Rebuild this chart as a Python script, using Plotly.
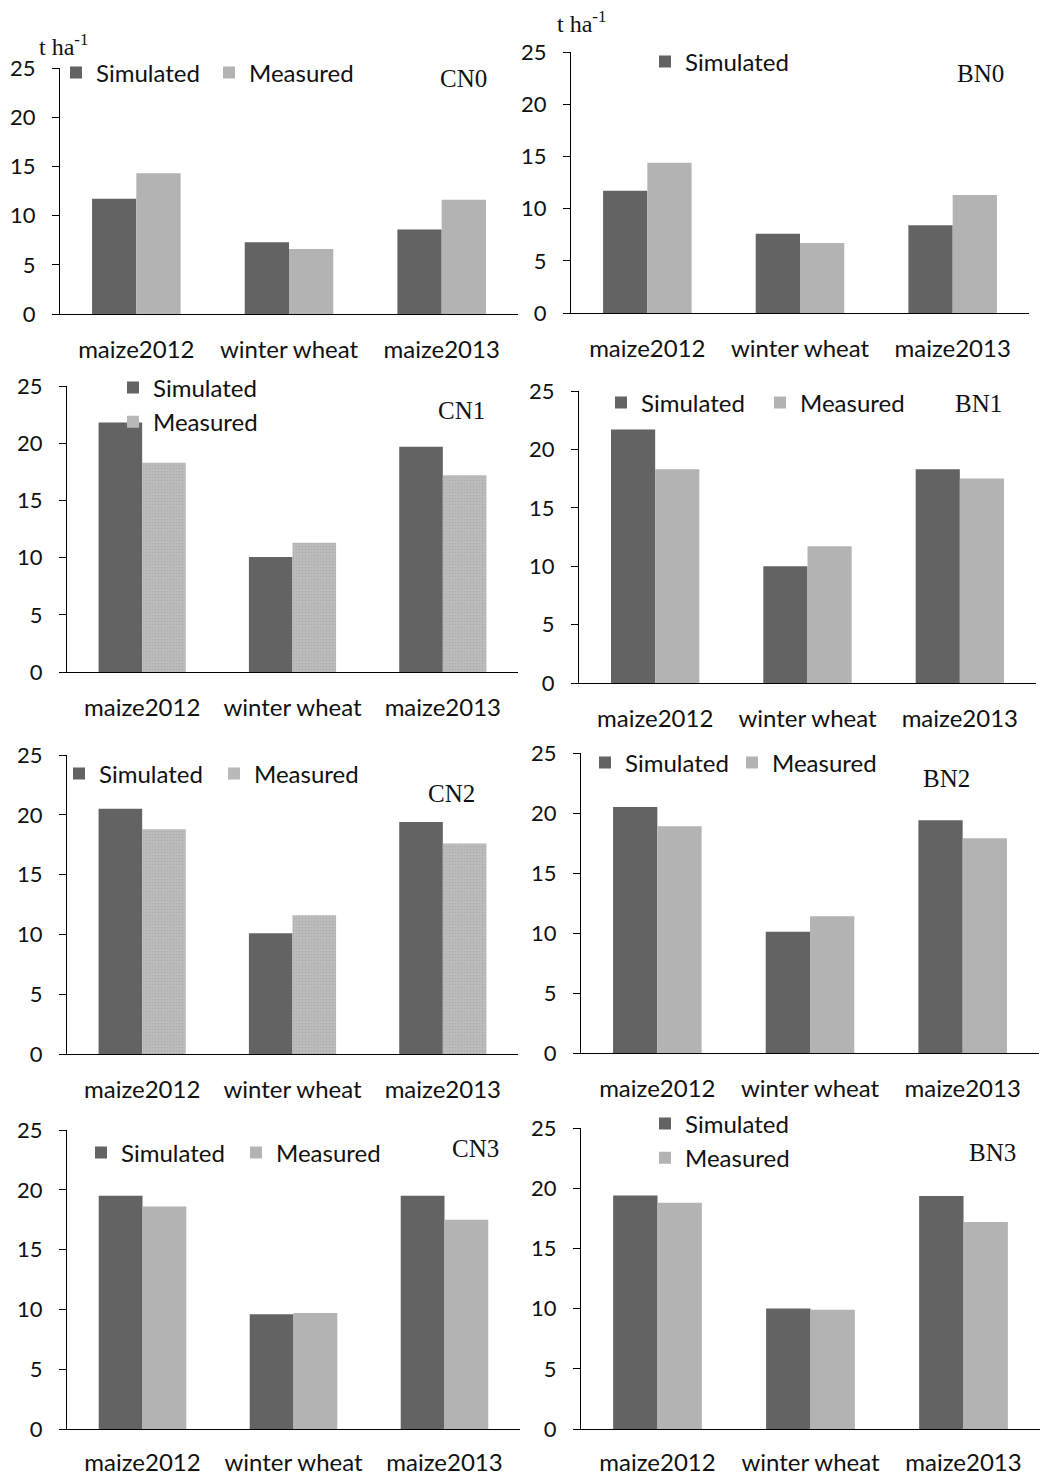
import plotly.graph_objects as go

# ---------------- data ----------------
categories = ["maize2012", "winter wheat", "maize2013"]
panels = ["CN0", "BN0", "CN1", "BN1", "CN2", "BN2", "CN3", "BN3"]

sim_CN0 = [11.7, 7.3, 8.6]
meas_CN0 = [14.3, 6.6, 11.6]
sim_BN0 = [11.7, 7.6, 8.4]
meas_BN0 = [14.4, 6.7, 11.3]
sim_CN1 = [21.8, 10.05, 19.7]
meas_CN1 = [18.3, 11.3, 17.2]
sim_BN1 = [21.7, 10.0, 18.3]
meas_BN1 = [18.3, 11.7, 17.5]
sim_CN2 = [20.5, 10.1, 19.4]
meas_CN2 = [18.8, 11.6, 17.6]
sim_BN2 = [20.5, 10.1, 19.4]
meas_BN2 = [18.9, 11.4, 17.9]
sim_CN3 = [19.5, 9.6, 19.5]
meas_CN3 = [18.6, 9.7, 17.5]
sim_BN3 = [19.4, 10.0, 19.35]
meas_BN3 = [18.8, 9.9, 17.2]

simulated = {"CN0": sim_CN0, "BN0": sim_BN0, "CN1": sim_CN1, "BN1": sim_BN1,
             "CN2": sim_CN2, "BN2": sim_BN2, "CN3": sim_CN3, "BN3": sim_BN3}
measured = {"CN0": meas_CN0, "BN0": meas_BN0, "CN1": meas_CN1, "BN1": meas_BN1,
            "CN2": meas_CN2, "BN2": meas_BN2, "CN3": meas_CN3, "BN3": meas_BN3}

y_ticks = [0, 5, 10, 15, 20, 25]
unit_label = "t ha<sup>-1</sup>"

# ---------------- layout geometry (pixels) ----------------
W, H = 1046, 1479
DARK = "#636363"
LIGHT = "#b3b3b3"
TXT = "#111111"
SANS = "Lato"
SERIF = "Liberation Serif"

geom = {
    "CN0": dict(x0=60, x1=518, yt=68, yb=314, lab=(463, 78), leg="h", sq=70, ly=73, ew=108, both=True, tex=False, so=14),
    "BN0": dict(x0=571, x1=1029, yt=52, yb=313, lab=(980, 74), leg="h", sq=659, ly=62, ew=108, both=False, tex=False, so=14),
    "CN1": dict(x0=67, x1=518, yt=386, yb=672, lab=(461, 410), leg="v", sq=127, ly=405, ew=0, both=True, tex=True, so=14),
    "BN1": dict(x0=579, x1=1036, yt=391, yb=683, lab=(978, 403), leg="h", sq=615, ly=403, ew=114, both=True, tex=False, so=14),
    "CN2": dict(x0=67, x1=518, yt=755, yb=1054, lab=(451, 793), leg="h", sq=73, ly=774, ew=110, both=True, tex=True, so=14),
    "BN2": dict(x0=581, x1=1039, yt=753, yb=1053, lab=(946, 779), leg="h", sq=599, ly=763, ew=102, both=True, tex=False, so=14),
    "CN3": dict(x0=67, x1=520, yt=1130, yb=1429, lab=(475, 1148), leg="h", sq=95, ly=1153, ew=110, both=True, tex=False, so=12),
    "BN3": dict(x0=581, x1=1040, yt=1128, yb=1429, lab=(992, 1152), leg="v", sq=659, ly=1141, ew=0, both=True, tex=False, so=12),
}

fig = go.Figure()
layout = dict(
    width=W, height=H, autosize=False, margin=dict(l=0, r=0, t=0, b=0, pad=0, autoexpand=False),
    paper_bgcolor="white", plot_bgcolor="white",
    barmode="group", bargap=0.42, bargroupgap=0.0,
    font=dict(family=SANS, size=22, color=TXT),
    annotations=[],
)

for i, p in enumerate(panels, start=1):
    g = geom[p]
    xa = "x" if i == 1 else f"x{i}"
    ya = "y" if i == 1 else f"y{i}"
    lg = "legend" if i == 1 else f"legend{i}"

    meas_marker = dict(color=LIGHT)
    if g["tex"]:
        meas_marker = dict(color="#b8b8b8",
                           pattern=dict(shape=".", fgcolor="#9c9c9c", bgcolor="#bcbcbc",
                                        size=3, solidity=0.25))

    fig.add_trace(go.Bar(x=categories, y=simulated[p], name="Simulated",
                         marker=dict(color=DARK, line=dict(width=0)),
                         xaxis=xa, yaxis=ya, legend=lg, legendgroup=f"s{i}",
                         showlegend=True))
    fig.add_trace(go.Bar(x=categories, y=measured[p], name="Measured",
                         marker=dict(**meas_marker, line=dict(width=0)),
                         xaxis=xa, yaxis=ya, legend=lg, legendgroup=f"m{i}",
                         showlegend=g["both"]))

    xkey = "xaxis" if i == 1 else f"xaxis{i}"
    ykey = "yaxis" if i == 1 else f"yaxis{i}"
    layout[xkey] = dict(domain=[g["x0"] / W, g["x1"] / W], anchor=ya,
                        showline=True, linecolor="#000", linewidth=1,
                        ticks="", showgrid=False, zeroline=False, automargin=False,
                        tickfont=dict(family=SANS, size=24, color=TXT),
                        ticklabelstandoff=g["so"], fixedrange=True)
    layout[ykey] = dict(domain=[1 - g["yb"] / H, 1 - g["yt"] / H], anchor=xa,
                        range=[0, 25], tickvals=y_ticks, automargin=False,
                        showline=True, linecolor="#000", linewidth=1,
                        ticks="outside", ticklen=7, tickcolor="#000", tickwidth=1,
                        showgrid=False, zeroline=False,
                        tickfont=dict(family=SANS, size=22, color=TXT),
                        ticklabelstandoff=12, fixedrange=True)

    leg = dict(bgcolor="rgba(0,0,0,0)", borderwidth=0,
               font=dict(family=SANS, size=24, color=TXT),
               x=(g["sq"] - 14) / W, xanchor="left",
               y=1 - g["ly"] / H, yanchor="middle",
               traceorder="normal")
    if g["leg"] == "h":
        leg.update(orientation="h", entrywidth=g["ew"], entrywidthmode="pixels")
    else:
        leg.update(orientation="v", tracegroupgap=0)
    layout[lg] = leg

    layout["annotations"].append(dict(
        text=p, x=g["lab"][0] / W, y=1 - g["lab"][1] / H, xref="paper", yref="paper",
        xanchor="center", yanchor="middle", showarrow=False,
        font=dict(family=SERIF, size=25, color=TXT)))

# unit labels
layout["annotations"].append(dict(text=unit_label, x=37 / W, y=1 - 45 / H, xref="paper", yref="paper",
                                  xanchor="left", yanchor="middle", showarrow=False,
                                  font=dict(family=SERIF, size=24, color=TXT)))
layout["annotations"].append(dict(text=unit_label, x=555 / W, y=1 - 22 / H, xref="paper", yref="paper",
                                  xanchor="left", yanchor="middle", showarrow=False,
                                  font=dict(family=SERIF, size=24, color=TXT)))

fig.update_layout(**layout)
fig.write_html("out.html", config={"responsive": False, "displayModeBar": False},
               post_script="document.body.style.margin='0px';document.body.style.overflow='hidden';")
